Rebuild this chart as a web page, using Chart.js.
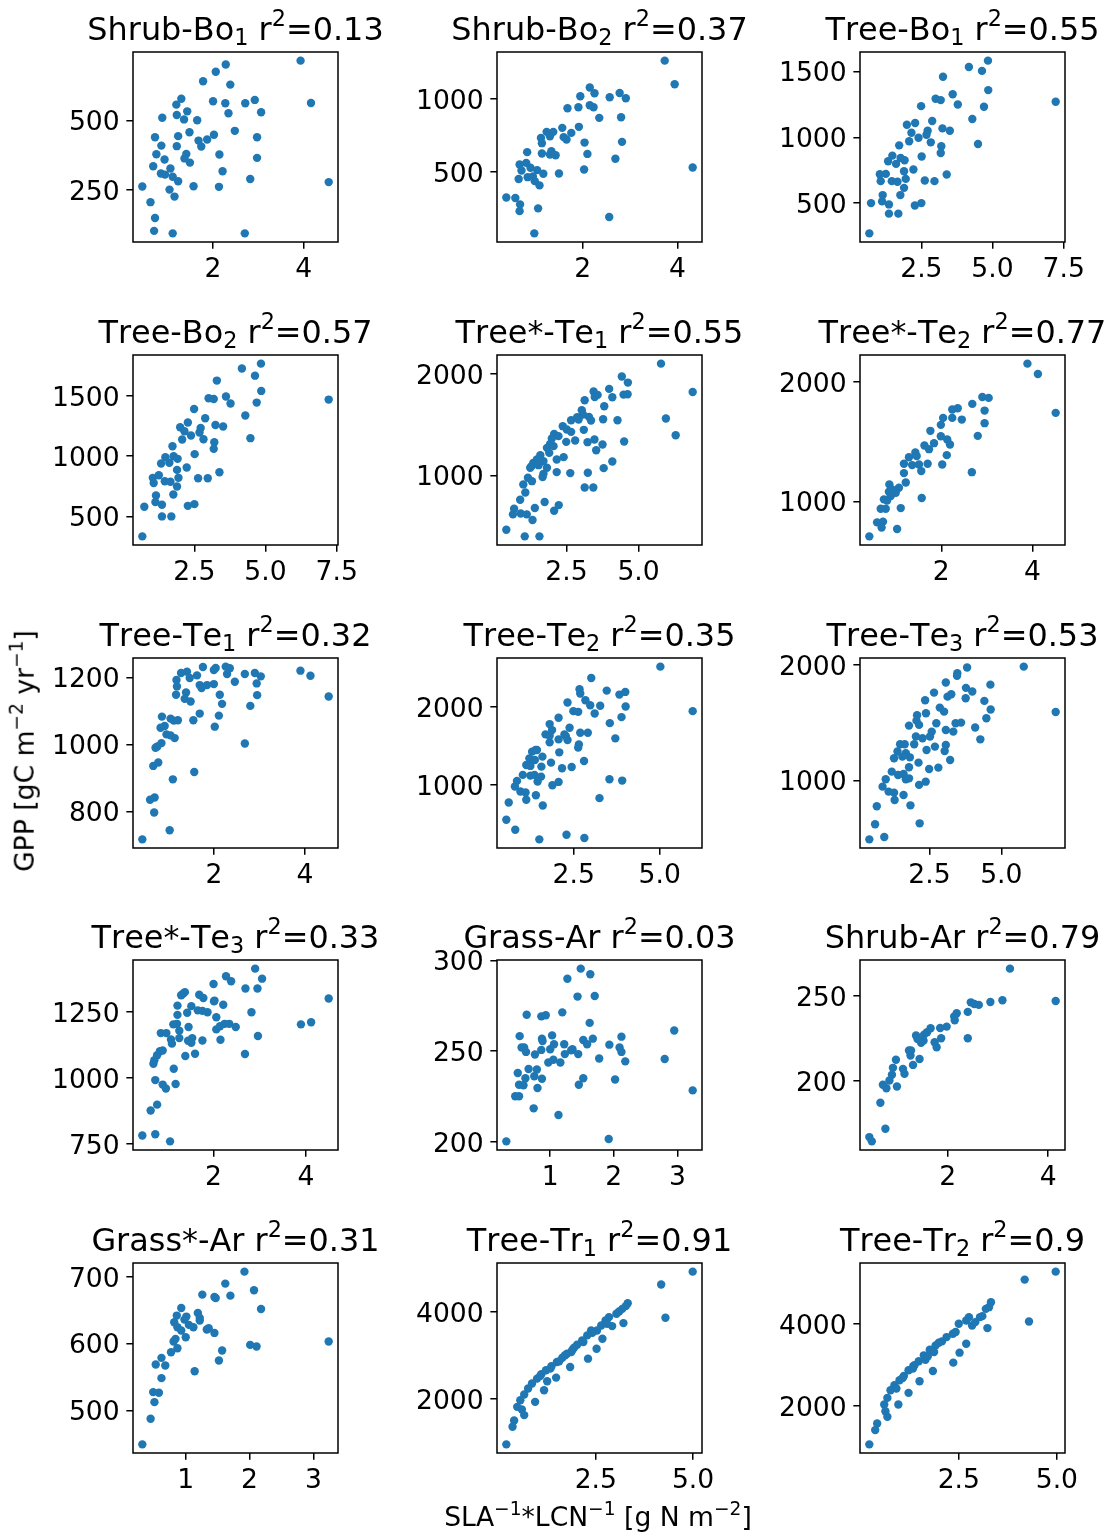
<!DOCTYPE html>
<html><head><meta charset="utf-8">
<script src="https://cdn.jsdelivr.net/npm/chart.js@4.4.0/dist/chart.umd.min.js"></script>
<style>
html,body{margin:0;padding:0;background:#fff;}
#fig{position:relative;width:1108px;height:1535px;overflow:hidden;font-family:"DejaVu Sans";color:#000;background:#fff;}
canvas{position:absolute;}
.ttl{position:absolute;text-align:center;font-size:31.9px;line-height:1;white-space:nowrap;font-kerning:none;}
.sb{font-size:0.7em;position:relative;top:0.25em;}
.sp{font-size:0.7em;position:relative;top:-0.6em;}
.lab{position:absolute;font-size:26.6px;line-height:1;white-space:nowrap;font-kerning:none;}
</style></head><body><div id="fig"></div>
<script>
// ---------- data (SLA^-1*LCN^-1 , GPP) per panel ----------
const p1 = [[3.93,715],[2.28,701],[2.06,675],[1.78,641],[2.38,629],[1.30,578],[1.19,557],[2.00,569],[2.27,562],[2.71,562],[2.92,574],[4.16,563],[1.43,533],[1.20,520],[2.34,526],[3.06,530],[0.88,510],[1.36,504],[1.65,501],[1.48,458],[2.48,463],[0.72,440],[1.23,444],[2.02,449],[1.87,432],[1.68,428],[2.97,440],[0.86,410],[1.20,408],[1.74,407],[0.75,379],[1.41,380],[2.14,378],[0.93,360],[1.37,364],[1.49,349],[2.97,366],[0.68,336],[1.06,328],[0.85,310],[0.94,306],[1.11,298],[1.23,282],[2.21,318],[2.82,290],[0.44,263],[1.04,252],[1.15,227],[1.57,264],[2.13,262],[4.55,279],[0.62,207],[0.72,150],[0.70,104],[1.11,95],[2.70,95]];
const p2 = [[3.73,1258],[3.94,1097],[4.32,532],[2.15,1075],[2.25,1036],[1.95,1016],[2.57,1009],[2.78,1038],[2.91,1002],[1.68,934],[1.91,941],[2.15,955],[2.23,941],[2.35,869],[2.81,873],[1.57,801],[1.92,808],[1.76,767],[1.60,738],[1.66,722],[1.38,774],[1.24,774],[1.31,744],[1.12,733],[1.14,697],[2.04,701],[2.83,706],[0.83,636],[1.14,627],[1.34,643],[1.31,620],[1.43,615],[2.10,624],[2.69,591],[0.67,552],[0.81,563],[0.71,511],[0.90,530],[1.04,514],[1.17,489],[1.50,491],[2.03,518],[0.65,453],[0.84,466],[0.95,471],[0.99,439],[1.09,410],[0.39,328],[0.58,324],[0.68,281],[0.67,235],[1.06,254],[2.56,195],[0.98,84]];
const p3 = [[4.84,1583],[4.17,1535],[4.63,1505],[3.26,1460],[4.85,1359],[3.60,1328],[3.00,1293],[3.18,1283],[3.78,1250],[4.70,1232],[2.49,1237],[7.22,1270],[4.29,1139],[1.99,1096],[2.28,1109],[2.88,1124],[2.72,1050],[2.68,1020],[3.24,1068],[3.50,1050],[2.15,1035],[2.40,997],[2.07,970],[2.83,962],[4.49,949],[1.72,939],[3.20,932],[3.18,881],[2.51,854],[1.48,861],[1.33,818],[1.77,843],[1.91,826],[1.61,798],[1.89,742],[2.22,755],[1.04,720],[1.25,722],[1.07,667],[1.46,667],[1.66,662],[1.95,684],[1.89,616],[2.62,672],[2.96,667],[3.39,717],[1.14,561],[1.76,561],[1.12,513],[1.36,490],[0.73,500],[2.27,482],[2.50,500],[1.36,420],[1.69,420],[0.67,270]];
const p4 = [[4.84,1770],[4.17,1729],[4.63,1670],[3.29,1629],[4.85,1543],[3.61,1496],[3.00,1482],[3.18,1476],[3.77,1438],[4.69,1446],[2.49,1393],[7.22,1471],[4.29,1338],[2.00,1241],[2.27,1280],[2.88,1316],[2.72,1235],[2.68,1197],[3.24,1260],[3.51,1247],[2.15,1208],[2.38,1172],[2.07,1139],[2.82,1141],[4.47,1150],[1.73,1083],[3.20,1116],[3.18,1061],[2.51,1017],[1.48,992],[1.33,939],[1.77,1000],[1.91,978],[1.62,945],[1.89,886],[2.23,906],[1.04,820],[1.25,842],[1.07,776],[1.46,792],[1.66,787],[1.94,820],[1.89,748],[2.63,817],[2.97,817],[3.38,867],[1.15,673],[1.76,681],[1.13,618],[1.36,596],[0.74,579],[2.27,587],[2.50,601],[1.36,499],[1.69,499],[0.67,333]];
const p5 = [[5.78,2098],[6.88,1820],[5.95,1559],[6.29,1395],[4.42,1971],[4.63,1912],[3.98,1850],[4.09,1768],[4.48,1794],[4.62,1797],[3.44,1824],[3.58,1791],[3.48,1771],[3.13,1739],[3.81,1680],[3.03,1641],[3.07,1598],[3.28,1575],[2.87,1572],[2.66,1542],[3.35,1539],[3.77,1552],[4.27,1542],[2.37,1484],[2.51,1451],[3.10,1448],[2.66,1428],[2.07,1408],[2.22,1386],[1.99,1363],[2.49,1330],[2.80,1343],[3.23,1327],[3.47,1353],[3.75,1304],[4.50,1333],[3.53,1248],[1.82,1271],[2.05,1288],[1.90,1222],[2.16,1157],[2.40,1180],[1.47,1157],[1.70,1141],[1.29,1092],[1.53,1101],[1.82,1075],[1.70,1016],[2.16,1033],[2.63,1023],[3.24,1026],[4.09,1137],[3.79,1072],[1.67,984],[1.16,977],[1.30,944],[1.00,912],[1.07,833],[3.13,882],[3.43,882],[0.89,761],[1.74,739],[2.23,709],[2.07,654],[0.68,673],[0.64,618],[0.91,627],[1.12,618],[1.32,562],[1.40,680],[0.41,467],[1.05,402],[1.56,402],[1.35,1124],[1.59,1199],[1.24,1075],[1.93,1310],[2.92,1549]];
const p6 = [[3.89,2150],[4.12,2064],[4.51,1739],[2.90,1872],[3.04,1864],[2.68,1814],[2.95,1758],[2.36,1778],[2.24,1767],[2.04,1697],[2.24,1697],[2.45,1683],[2.95,1653],[1.99,1639],[1.76,1589],[1.99,1544],[2.13,1517],[2.19,1475],[2.80,1547],[1.84,1486],[1.63,1467],[1.73,1436],[1.43,1408],[1.29,1369],[1.46,1378],[2.12,1386],[1.18,1314],[1.36,1303],[1.51,1308],[1.70,1314],[2.02,1308],[1.18,1236],[1.56,1253],[1.22,1158],[0.86,1142],[1.07,1114],[0.85,1081],[1.00,1072],[0.74,1017],[0.89,1044],[2.67,1244],[1.57,1028],[0.67,939],[0.78,939],[1.11,944],[0.59,825],[0.72,831],[0.69,781],[1.03,769],[0.42,708],[0.81,1008],[0.92,1100]];
const p7 = [[1.76,1231],[2.04,1228],[2.00,1222],[2.26,1232],[2.35,1227],[2.29,1210],[1.41,1217],[1.28,1213],[1.47,1198],[1.63,1206],[1.18,1192],[1.19,1173],[1.69,1177],[1.73,1168],[1.85,1177],[2.00,1180],[2.46,1187],[2.68,1210],[2.90,1213],[3.03,1203],[2.94,1182],[3.90,1220],[4.12,1205],[4.52,1143],[1.17,1148],[1.39,1155],[1.36,1136],[1.49,1128],[2.13,1148],[2.18,1121],[2.95,1147],[2.80,1115],[1.69,1092],[2.11,1086],[1.55,1072],[2.02,1053],[0.86,1083],[1.05,1077],[1.12,1071],[1.21,1072],[0.83,1050],[0.92,1055],[0.96,1030],[1.05,1027],[1.14,1019],[0.85,1004],[2.68,1003],[0.72,990],[0.76,994],[0.67,936],[0.78,946],[1.57,918],[1.10,896],[0.60,835],[0.70,842],[0.69,797],[1.03,744],[0.43,717]];
const p8 = [[5.02,2515],[5.96,1945],[3.01,2370],[2.67,2225],[2.69,2170],[3.46,2208],[3.83,2157],[4.00,2191],[2.32,2055],[2.84,2085],[2.98,2021],[3.27,2013],[4.01,2004],[2.49,1945],[2.63,1936],[3.11,1915],[2.06,1860],[3.89,1868],[1.80,1779],[3.55,1791],[1.87,1702],[2.38,1732],[1.68,1647],[1.80,1630],[2.23,1647],[2.69,1668],[2.91,1668],[2.06,1583],[1.80,1545],[2.32,1574],[2.27,1625],[2.65,1519],[2.63,1477],[3.71,1596],[1.43,1447],[1.29,1426],[2.08,1417],[1.59,1362],[1.21,1340],[1.37,1319],[1.12,1255],[1.84,1285],[2.80,1306],[1.56,1234],[2.16,1213],[2.44,1230],[1.02,1128],[1.24,1119],[1.36,1128],[1.55,1106],[1.45,1043],[0.85,1051],[0.79,979],[0.95,915],[1.10,902],[1.88,996],[2.06,1038],[3.54,1072],[3.91,1055],[1.12,809],[1.40,868],[1.60,736],[3.25,830],[0.61,774],[0.54,553],[0.80,426],[1.50,302],[2.29,362],[2.81,319],[1.24,1243],[1.39,1447]];
const p9 = [[5.78,1985],[6.89,1592],[3.81,1977],[3.47,1928],[3.46,1905],[3.07,1847],[2.66,1760],[3.77,1801],[3.99,1769],[3.13,1725],[3.26,1746],[4.62,1829],[2.35,1694],[3.76,1711],[4.41,1688],[2.86,1630],[3.01,1595],[2.38,1581],[2.07,1564],[4.63,1613],[4.48,1538],[2.05,1517],[1.79,1474],[2.14,1480],[2.74,1494],[3.41,1494],[3.60,1500],[2.58,1422],[3.07,1436],[3.33,1422],[4.09,1457],[2.03,1379],[2.26,1364],[2.52,1379],[4.27,1355],[1.48,1312],[1.64,1312],[1.97,1312],[2.40,1263],[2.69,1292],[3.07,1306],[3.03,1254],[1.39,1249],[1.68,1234],[1.27,1191],[1.56,1205],[1.82,1199],[3.22,1176],[2.12,1153],[1.79,1113],[1.19,1075],[1.41,1046],[1.60,1055],[2.49,1098],[2.81,1110],[1.68,1009],[1.79,1017],[0.98,1009],[0.87,945],[1.08,902],[1.27,893],[2.14,960],[2.37,988],[1.60,873],[1.29,829],[0.67,775],[1.84,783],[0.61,619],[2.16,627],[0.41,488],[0.93,509]];
const p10 = [[2.90,1414],[3.05,1376],[2.27,1385],[2.38,1366],[2.69,1339],[2.95,1339],[2.00,1356],[4.49,1301],[1.34,1319],[1.38,1325],[1.30,1313],[1.69,1315],[1.78,1303],[2.02,1293],[2.01,1290],[2.21,1277],[1.22,1274],[1.52,1272],[1.43,1247],[1.66,1256],[1.76,1254],[1.87,1249],[2.82,1249],[1.22,1239],[2.06,1230],[1.21,1205],[1.13,1203],[1.46,1193],[3.89,1203],[4.11,1211],[2.06,1184],[2.14,1196],[2.24,1205],[2.34,1205],[2.48,1193],[1.26,1179],[0.86,1170],[0.98,1170],[1.26,1151],[1.08,1146],[1.45,1141],[1.54,1151],[1.76,1142],[1.52,1133],[2.15,1145],[2.96,1159],[1.10,1130],[0.84,1101],[0.90,1104],[0.78,1086],[0.72,1067],[0.70,1054],[1.39,1083],[1.60,1092],[2.68,1091],[1.14,1035],[0.74,992],[0.90,975],[0.97,960],[1.18,977],[0.78,899],[0.64,877],[0.46,782],[0.74,787],[1.06,760]];
const p11 = [[1.48,295.5],[1.63,292.4],[1.27,289.9],[1.43,280.1],[1.70,280.4],[0.63,270.1],[0.86,269.2],[0.93,269.8],[1.19,271.4],[1.62,265.6],[0.52,258.3],[0.87,256.9],[1.03,258.7],[0.88,255.6],[0.59,252],[0.55,252],[0.62,249.6],[0.86,250.7],[1.00,251.1],[1.06,253.8],[1.22,253.8],[1.35,251.1],[1.33,250.5],[1.52,256.2],[1.58,253.8],[1.67,256.9],[1.93,253.6],[2.12,258],[2.09,252],[2.12,249.6],[2.18,244.4],[1.77,246],[0.76,248.2],[0.97,243.8],[1.05,245.3],[1.16,243.8],[1.23,248.4],[1.44,248.4],[2.80,245.7],[2.95,261.4],[0.49,238],[0.66,240.2],[0.79,239.9],[0.61,235.1],[0.75,236.2],[0.87,234.8],[0.51,231.5],[0.58,231.2],[0.80,229.7],[1.52,235.1],[1.45,231.5],[2.02,234.4],[3.24,228.4],[0.45,225.2],[0.51,225.2],[0.74,218.5],[1.13,214.8],[0.31,200.3],[1.92,201.6]];
const p12 = [[3.24,265.8],[4.15,246.9],[3.09,247.3],[2.85,246.3],[2.46,246.1],[2.53,245.1],[2.62,244.6],[2.40,240.5],[2.18,239.7],[2.13,237.8],[2.14,235.6],[1.98,231.9],[1.85,231.1],[1.66,230.9],[1.59,228.6],[1.53,227.2],[1.37,226.7],[1.87,225.1],[2.40,225.1],[1.74,222.8],[1.52,223.7],[1.47,222.4],[1.78,219.8],[1.27,217.9],[1.26,215],[1.44,213],[1.31,209.5],[0.97,212.5],[0.91,207.8],[1.11,207.2],[1.14,204.3],[0.89,203.7],[0.84,200.4],[0.71,197.9],[0.78,195.9],[0.99,196.9],[0.66,187.4],[0.76,172.2],[0.44,167.3],[0.49,164.8],[1.23,217.9],[1.40,224.7]];
const p13 = [[1.92,707.5],[1.62,689.6],[2.07,679.6],[1.26,673.1],[1.45,669.7],[1.47,668.2],[1.70,671.6],[2.18,651.7],[0.93,653.2],[0.86,641.8],[1.19,645.8],[1.22,638.3],[0.98,635.8],[1.05,627.9],[0.87,624.4],[1.12,624.4],[1.33,620.9],[1.45,615.9],[1.00,609.5],[0.84,607],[0.81,603],[0.87,593],[2.01,598],[2.11,595.5],[3.24,603],[0.77,587.1],[0.62,578.6],[0.53,568.7],[0.68,567.2],[1.57,589.6],[1.52,574.6],[1.14,558.7],[0.62,548.3],[0.49,527.4],[0.58,526.4],[0.51,512.4],[0.45,487.6],[0.32,449.3],[1.01,640.3],[1.22,634.3],[0.82,631.8],[0.93,619.4],[1.36,622.9]];
const p14 = [[4.99,4931],[4.18,4634],[4.29,3870],[3.32,4206],[3.27,4138],[3.18,4076],[3.03,3962],[3.21,3748],[2.92,3679],[2.84,3886],[2.75,3809],[2.64,3695],[2.53,3580],[2.38,3580],[2.67,3389],[2.28,3466],[2.15,3351],[2.02,3252],[2.52,3160],[1.90,3137],[1.76,3046],[1.64,2954],[2.30,2931],[1.50,2855],[1.36,2756],[1.84,2741],[1.22,2664],[1.10,2573],[1.48,2496],[0.99,2473],[1.25,2412],[0.86,2359],[0.76,2244],[1.17,2206],[0.66,2107],[0.56,1977],[0.94,1939],[0.60,1763],[0.66,1634],[0.40,1511],[0.36,1366],[0.20,962],[0.48,1824],[1.56,2870],[1.94,3183],[2.18,3313],[2.41,3527],[2.79,3733],[3.10,4015],[1.07,2534],[1.33,2702],[1.87,3084],[1.71,3008]];
const p15 = [[4.97,5271],[4.18,5077],[4.29,4057],[3.32,4526],[3.27,4405],[3.19,4364],[3.04,4162],[3.23,3895],[2.92,4040],[2.76,4162],[2.69,4081],[2.50,4000],[2.69,3514],[2.35,3757],[2.19,3676],[2.07,3571],[2.52,3296],[1.91,3474],[1.76,3368],[2.36,3053],[1.61,3231],[1.48,3085],[1.84,2850],[1.34,2964],[1.22,2866],[1.50,2599],[1.10,2729],[0.99,2623],[1.22,2316],[0.86,2502],[0.76,2381],[0.96,2032],[0.68,2194],[0.60,2032],[0.63,1870],[0.68,1733],[0.42,1571],[0.37,1409],[0.22,1061],[1.65,3125],[1.99,3538],[2.42,3798],[2.84,3959],[3.10,4186],[1.07,2680],[1.33,2907],[1.87,3312],[1.71,3207],[1.37,2988],[0.91,2421]];

// ---------- panel titles ----------
const pftNames = ["Shrub-Bo","Shrub-Bo","Tree-Bo","Tree-Bo","Tree*-Te","Tree*-Te","Tree-Te","Tree-Te","Tree-Te","Tree*-Te","Grass-Ar","Shrub-Ar","Grass*-Ar","Tree-Tr","Tree-Tr"];
const pftSubs  = ["1","2","1","2","1","2","1","2","3","3","","","","1","2"];
const r2Values = ["0.13","0.37","0.55","0.57","0.55","0.77","0.32","0.35","0.53","0.33","0.03","0.79","0.31","0.91","0.9"];

// ---------- tick labels ----------
const xTickLabels = [["2","4"],["2","4"],["2.5","5.0","7.5"],["2.5","5.0","7.5"],["2.5","5.0"],["2","4"],["2","4"],["2.5","5.0"],["2.5","5.0"],["2","4"],["1","2","3"],["2","4"],["1","2","3"],["2.5","5.0"],["2.5","5.0"]];
const yTickLabels = [["250","500"],["500","1000"],["500","1000","1500"],["500","1000","1500"],["1000","2000"],["1000","2000"],["800","1000","1200"],["1000","2000"],["1000","2000"],["750","1000","1250"],["200","250","300"],["200","250"],["500","600","700"],["2000","4000"],["2000","4000"]];

const yLabelText = 'GPP [gC m<span class="sp">\u22122</span> yr<span class="sp">\u22121</span>]';
const xLabelText = 'SLA<span class="sp">\u22121</span>*LCN<span class="sp">\u22121</span> [g N m<span class="sp">\u22122</span>]';

const series = [p1,p2,p3,p4,p5,p6,p7,p8,p9,p10,p11,p12,p13,p14,p15];

// ---------- layout ----------
const PLOT_W = 205, PLOT_H = 190;
const colLeft = [133, 497, 860];
const rowTop = [52, 355, 658, 960, 1263];
const PAD_L = 110, PAD_T = 22, PAD_R = 38, PAD_B = 55;
const TICK_FONT = 26.6, TICK_LEN = 6.65;

const fig = document.getElementById('fig');
Chart.defaults.font.family = '"DejaVu Sans"';
Chart.defaults.color = '#000';

const boxPlugin = {
  id: 'box',
  afterDraw(c) {
    const a = c.chartArea, ctx = c.ctx;
    ctx.save();
    ctx.strokeStyle = '#000';
    ctx.lineWidth = 1.5;
    ctx.strokeRect(a.left, a.top, a.right - a.left, a.bottom - a.top);
    ctx.restore();
  }
};

function limits(vals) {
  const mn = Math.min(...vals), mx = Math.max(...vals);
  const d = (mx - mn) * 0.05;
  return [mn - d, mx + d];
}

series.forEach((pts, i) => {
  const r = Math.floor(i / 3), c = i % 3;
  const L = colLeft[c], T = rowTop[r];
  const cv = document.createElement('canvas');
  const W = PLOT_W + PAD_L + PAD_R, H = PLOT_H + PAD_T + PAD_B;
  cv.width = W; cv.height = H;
  cv.style.width = W + 'px'; cv.style.height = H + 'px';
  cv.style.left = (L - PAD_L) + 'px'; cv.style.top = (T - PAD_T) + 'px';
  fig.appendChild(cv);

  const xt = xTickLabels[i], yt = yTickLabels[i];
  const [xmin, xmax] = limits(pts.map(p => p[0]));
  const [ymin, ymax] = limits(pts.map(p => p[1]));
  const gridOpts = { display: true, drawOnChartArea: false, drawTicks: true, tickLength: TICK_LEN, color: '#000', lineWidth: 1.5 };

  new Chart(cv, {
    type: 'scatter',
    data: { datasets: [{ data: pts.map(p => ({ x: p[0], y: p[1] })), backgroundColor: '#1f77b4', borderWidth: 0, pointRadius: 4.2, pointHoverRadius: 4.2 }] },
    options: {
      responsive: false, animation: false, events: [],
      layout: { padding: { left: 0, top: PAD_T, right: PAD_R, bottom: 0 } },
      plugins: { legend: { display: false }, tooltip: { enabled: false }, title: { display: false } },
      scales: {
        x: {
          type: 'linear', min: xmin, max: xmax,
          afterFit(s) { s.height = PAD_B; },
          afterBuildTicks(s) { s.ticks = xt.map(v => ({ value: parseFloat(v) })); },
          ticks: { autoSkip: false, maxRotation: 0, minRotation: 0, padding: 8, color: '#000',
                   font: { size: TICK_FONT, lineHeight: 1 },
                   callback: v => xt.find(s => parseFloat(s) === v) },
          grid: gridOpts, border: { display: false }
        },
        y: {
          type: 'linear', min: ymin, max: ymax,
          afterFit(s) { s.width = PAD_L; },
          afterBuildTicks(s) { s.ticks = yt.map(v => ({ value: parseFloat(v) })); },
          ticks: { autoSkip: false, padding: 6.65, labelOffset: 3, color: '#000',
                   font: { size: TICK_FONT, lineHeight: 1 },
                   callback: v => yt.find(s => parseFloat(s) === v) },
          grid: gridOpts, border: { display: false }
        }
      }
    },
    plugins: [boxPlugin]
  });

  const t = document.createElement('div');
  t.className = 'ttl';
  t.style.left = (L - 150) + 'px';
  t.style.width = (PLOT_W + 300) + 'px';
  t.style.top = (T - 38.4) + 'px';
  t.innerHTML = pftNames[i] + (pftSubs[i] ? '<span class="sb">' + pftSubs[i] + '</span>' : '') +
                ' r<span class="sp">2</span>=' + r2Values[i];
  fig.appendChild(t);
});

const yl = document.createElement('div');
yl.className = 'lab';
yl.style.left = '25px'; yl.style.top = '751px';
yl.style.transform = 'translate(-50%,-50%) rotate(-90deg)';
yl.innerHTML = yLabelText;
fig.appendChild(yl);

const xl = document.createElement('div');
xl.className = 'lab';
xl.style.left = '598px'; xl.style.top = '1517px';
xl.style.transform = 'translate(-50%,-50%)';
xl.innerHTML = xLabelText;
fig.appendChild(xl);
</script>
</body></html>
